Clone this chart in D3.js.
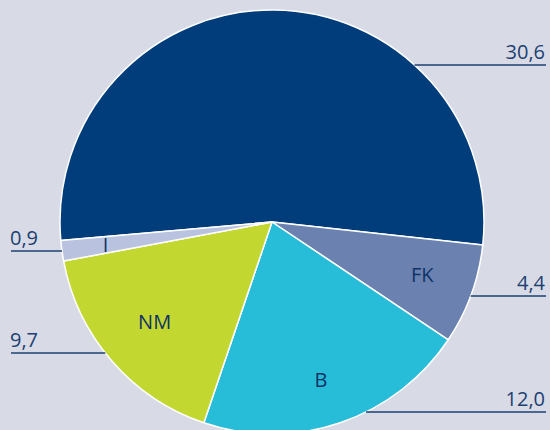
<!DOCTYPE html>
<html><head><meta charset="utf-8">
<script src="https://cdn.jsdelivr.net/npm/d3@7"></script>
<style>html,body{margin:0;padding:0;background:#d8dbe6;overflow:hidden}</style>
</head><body>
<svg id="c" width="550" height="430"></svg>
<script>
const categories = ["", "FK", "B", "NM", "I"];
const values = [30.6, 4.4, 12.0, 9.7, 0.9];
const valueLabels = ["30,6", "4,4", "12,0", "9,7", "0,9"];
const colors = ["#003d7a", "#6b82b1", "#27bcd8", "#c3d731", "#b9c3df"];
// label line y positions and sides (layout)
const labelY = [65, 296, 412, 353, 251];
const labelSide = ["r", "r", "r", "l", "l"];

const W = 550, H = 430, cx = 272, cy = 222, R = 212;
const svg = d3.select("#c");
svg.append("rect").attr("width", W).attr("height", H).attr("fill", "#d8dbe6");
const g = svg.append("g").attr("transform", `translate(${cx},${cy})`);
const start = -95 * Math.PI / 180;
const pie = d3.pie().sort(null).startAngle(start).endAngle(start + 2 * Math.PI);
const arcs = pie(values);
const arc = d3.arc().innerRadius(0).outerRadius(R);
const lab = d3.arc().innerRadius(162).outerRadius(162);
const nudge = [[0,0],[-2,-3],[-3,4],[5,-6],[-6,1]];
g.selectAll("path").data(arcs).join("path")
  .attr("d", arc).attr("fill", (d, i) => colors[i])
  .attr("stroke", "#fff").attr("stroke-width", 1.5).attr("stroke-linejoin", "round");
g.selectAll("text.cat").data(arcs).join("text").attr("class", "cat")
  .attr("transform", (d, i) => { const c = lab.centroid(d); return `translate(${c[0] + nudge[i][0]},${c[1] + nudge[i][1]})`; })
  .attr("text-anchor", "middle").attr("dy", "0.36em")
  .attr("font-family", "Open Sans, sans-serif").attr("font-size", 20).attr("font-weight", 500)
  .attr("fill", "#0f3366").text((d, i) => categories[i]);

const navy = "#1d3f72";
values.forEach((v, i) => {
  const y = labelY[i];
  const dy = y - cy;
  const dx = Math.sqrt(Math.max(0, R * R - dy * dy));
  if (labelSide[i] === "r") {
    svg.append("line").attr("x1", cx + dx).attr("x2", 546).attr("y1", y).attr("y2", y)
      .attr("stroke", navy).attr("stroke-width", 1.5);
    svg.append("text").attr("x", 545).attr("y", y - 6).attr("text-anchor", "end")
      .attr("font-family", "Open Sans, sans-serif").attr("font-size", 20).attr("fill", navy)
      .text(valueLabels[i]);
  } else {
    svg.append("line").attr("x1", 11).attr("x2", cx - dx).attr("y1", y).attr("y2", y)
      .attr("stroke", navy).attr("stroke-width", 1.5);
    svg.append("text").attr("x", 10).attr("y", y - 6).attr("text-anchor", "start")
      .attr("font-family", "Open Sans, sans-serif").attr("font-size", 20).attr("fill", navy)
      .text(valueLabels[i]);
  }
});
</script>
</body></html>
